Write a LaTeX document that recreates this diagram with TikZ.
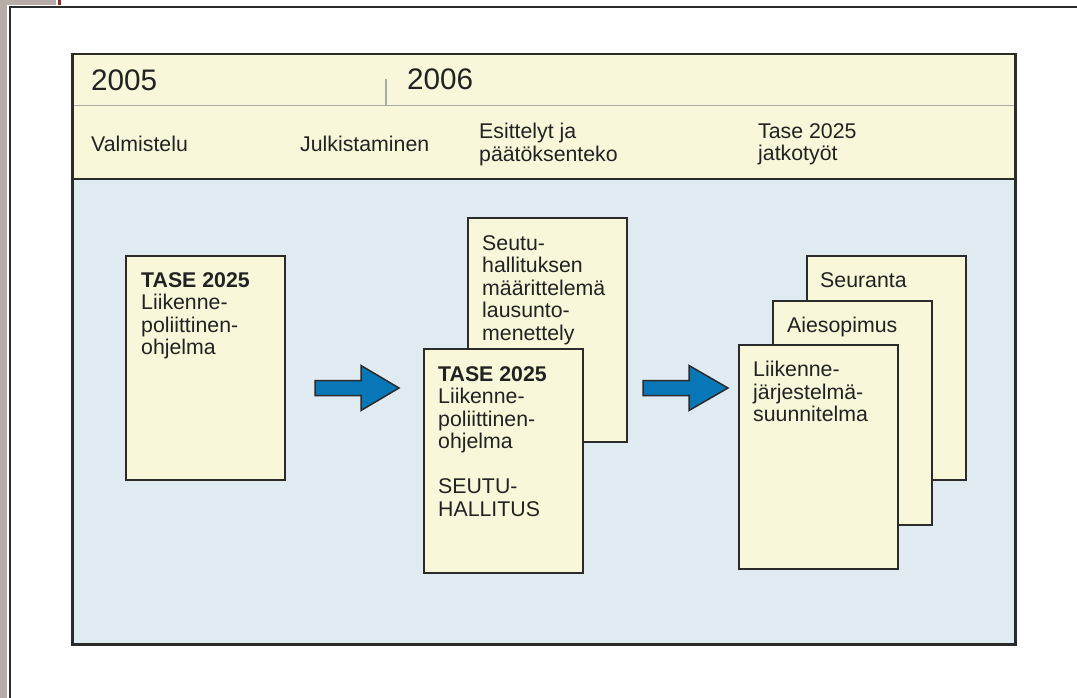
\documentclass[tikz,border=0pt]{standalone}
\usepackage{fontspec}
\setmainfont{Liberation Sans}
\usetikzlibrary{calc}
\definecolor{cream}{HTML}{F8F7DA}
\definecolor{paleblue}{HTML}{E0EAF1}
\definecolor{arrowblue}{HTML}{0877B7}
\definecolor{framecol}{HTML}{2B2B2B}
\definecolor{stripcol}{HTML}{B8ACA8}
\definecolor{redline}{HTML}{8E2A2A}
\definecolor{dividercol}{HTML}{ABABAB}
\definecolor{inkcol}{HTML}{222222}
\begin{document}
\begin{tikzpicture}[x=1pt,y=-1pt,
  docbox/.style={draw=framecol, line width=2.5pt, fill=cream, minimum width=159pt,
    minimum height=224pt, inner sep=0pt, outer sep=0pt, anchor=north west},
  boxtext/.style={anchor=north west, inner sep=0pt, align=left,
    font=\fontsize{21.3}{22.5}\selectfont, text=inkcol},
  yeartext/.style={anchor=north west, inner sep=0pt,
    font=\fontsize{29.7}{32}\selectfont, text=inkcol},
  blockarrow/.style={draw=framecol, line width=1.5pt, fill=arrowblue, line join=miter}]
\useasboundingbox (0,0) rectangle (1077,698);
\fill[white] (0,0) rectangle (1077,698);
% page edge decorations
\fill[stripcol] (0,0) rectangle (7,698);
\fill[stripcol] (0,0) rectangle (56,5);
\fill[redline] (58,0) rectangle (61,5);
\draw[framecol, line width=2.2pt] (1077,7) -- (10,7) -- (10,698);
% main panel
\fill[cream] (72.5,54) rectangle (1015.5,179);
\fill[paleblue] (72.5,179) rectangle (1015.5,644.5);
\draw[dividercol, line width=1.8pt] (72.5,105.5) -- (1015.5,105.5);
\draw[dividercol, line width=1.8pt] (386,79) -- (386,105.5);
\draw[framecol, line width=2.2pt] (72.5,179) -- (1015.5,179);
\draw[framecol, line width=2.6pt] (72.5,54) rectangle (1015.5,644.5);
% header texts
\node[yeartext] (y2005) at (91,70) {2005};
\node[yeartext] (y2006) at (407,69) {2006};
\node[boxtext] (h1) at (91,136) {Valmistelu};
\node[boxtext] (h2) at (300,136) {Julkistaminen};
\node[boxtext] (h3) at (479,123) {Esittelyt ja\\päätöksenteko};
\node[boxtext] (h4) at (758,123) {Tase 2025\\jatkotyöt};
% box 1
\node[docbox] (b1) at (126,256) {};
\node[boxtext] (t1) at ($(b1.north west)+(15,16)$) {\textbf{TASE 2025}\\Liikenne-\\poliittinen-\\ohjelma};
% box 2
\node[docbox] (b2back) at (468,218) {};
\node[boxtext] (t2back) at ($(b2back.north west)+(14,17)$) {Seutu-\\hallituksen\\määrittelemä\\lausunto-\\menettely};
\node[docbox] (b2) at (424,349) {};
\node[boxtext] (t2) at ($(b2.north west)+(14,17)$) {\textbf{TASE 2025}\\Liikenne-\\poliittinen-\\ohjelma\\[22.5pt]SEUTU-\\HALLITUS};
% box 3
\node[docbox] (b3back) at (807,256) {};
\node[boxtext] (t3back) at ($(b3back.north west)+(13,16)$) {Seuranta};
\node[docbox] (b3mid) at (773,301) {};
\node[boxtext] (t3mid) at ($(b3mid.north west)+(14,16)$) {Aiesopimus};
\node[docbox] (b3) at (739,345) {};
\node[boxtext] (t3) at ($(b3.north west)+(14,16)$) {Liikenne-\\järjestelmä-\\suunnitelma};
% block arrows
\coordinate (a1) at (315,388);
\coordinate (a2) at (643,388);
\draw[blockarrow] (a1) ++(0,-7.5) -- ++(46,0) -- ++(0,-15) -- ++(38,22.5) -- ++(-38,22.5) -- ++(0,-15) -- ++(-46,0) -- cycle;
\draw[blockarrow] (a2) ++(0,-7.5) -- ++(46,0) -- ++(0,-15) -- ++(39,22.5) -- ++(-39,22.5) -- ++(0,-15) -- ++(-46,0) -- cycle;
\end{tikzpicture}
\end{document}
